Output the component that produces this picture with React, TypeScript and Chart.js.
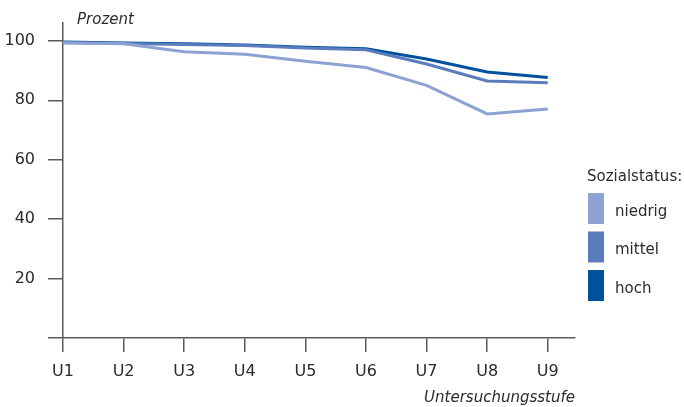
import React, { useEffect, useRef } from "react";
import { Chart, registerables } from "chart.js";

Chart.register(...registerables);

const categories = ["U1", "U2", "U3", "U4", "U5", "U6", "U7", "U8", "U9"];
const niedrig = [99.3, 99.0, 96.3, 95.5, 93.1, 91.0, 85.0, 75.4, 77.1];
const mittel = [99.4, 99.1, 98.8, 98.4, 97.6, 97.0, 92.2, 86.5, 85.9];
const hoch = [99.6, 99.3, 99.0, 98.6, 97.8, 97.3, 93.9, 89.5, 87.7];
const seriesNames = ["niedrig", "mittel", "hoch"];
const seriesColors = ["#8da2d3", "#5a7cbd", "#00519c"];
const yTicks = [0, 20, 40, 60, 80, 100];
const yLabel = "Prozent";
const xLabel = "Untersuchungsstufe";
const legendTitle = "Sozialstatus:";

const FONT = "'DejaVu Sans', 'Open Sans', sans-serif";
const TEXT = "#2b2b2b";
const AXIS = "#5a5a5a";

export default function App() {
  const ref = useRef<HTMLCanvasElement | null>(null);

  useEffect(() => {
    if (!ref.current) return;
    const toPts = (arr: number[]) => arr.map((v, i) => ({ x: i, y: v }));
    const series = [niedrig, mittel, hoch];

    const extras = {
      id: "extras",
      afterDraw(chart: any) {
        const ctx = chart.ctx;
        const area = chart.chartArea;
        ctx.save();
        ctx.fillStyle = TEXT;
        ctx.font = `italic 15px ${FONT}`;
        ctx.textBaseline = "middle";
        ctx.textAlign = "left";
        ctx.fillText(yLabel, area.left + 14, 20);

        // legend
        const lx = 588;
        ctx.font = `15px ${FONT}`;
        ctx.fillText(legendTitle, lx - 1, 177);
        seriesNames.forEach((name, i) => {
          const top = 193 + i * 38.5;
          ctx.fillStyle = seriesColors[i];
          ctx.fillRect(lx, top, 16, 31);
          ctx.fillStyle = TEXT;
          ctx.fillText(name, lx + 27, top + 19);
        });
        ctx.restore();
      },
    };

    const chart = new Chart(ref.current, {
      type: "line",
      data: {
        datasets: series.map((arr, i) => ({
          label: seriesNames[i],
          data: toPts(arr),
          borderColor: seriesColors[i],
          backgroundColor: seriesColors[i],
          borderWidth: 3,
          pointRadius: 0,
          tension: 0,
          fill: false,
        })),
      },
      options: {
        animation: false,
        responsive: true,
        maintainAspectRatio: false,
        layout: { padding: { top: 23, right: 109, left: 0, bottom: 0 } },
        plugins: {
          legend: { display: false },
          tooltip: { enabled: false },
          title: { display: false },
        },
        scales: {
          x: {
            type: "linear",
            min: 0,
            max: 8.45,
            afterBuildTicks: (scale: any) => {
              scale.ticks = categories.map((_, i) => ({ value: i }));
            },
            afterFit: (scale: any) => {
              scale.height = 69;
            },
            ticks: {
              color: TEXT,
              font: { family: FONT, size: 16 },
              padding: 10,
              autoSkip: false,
              maxRotation: 0,
              callback: (v: any) => categories[v] ?? "",
            },
            grid: {
              drawOnChartArea: false,
              drawTicks: true,
              tickLength: 14,
              color: AXIS,
              lineWidth: 1.5,
            },
            border: { display: true, color: AXIS, width: 1.5 },
            title: {
              display: true,
              text: xLabel,
              align: "end",
              color: TEXT,
              font: { family: FONT, size: 15, style: "italic" },
              padding: { top: 0, bottom: 0 },
            },
          },
          y: {
            min: 0,
            max: 106,
            afterBuildTicks: (scale: any) => {
              scale.ticks = yTicks.map((v) => ({ value: v }));
            },
            afterFit: (scale: any) => {
              scale.width = 63;
            },
            ticks: {
              color: TEXT,
              font: { family: FONT, size: 16 },
              padding: 13,
              callback: (v: any) => (v === 0 ? "" : String(v)),
            },
            grid: {
              drawOnChartArea: false,
              drawTicks: true,
              tickLength: 15,
              color: AXIS,
              lineWidth: 1.5,
            },
            border: { display: true, color: AXIS, width: 1.5 },
          },
        },
      },
      plugins: [extras],
    } as any);

    return () => chart.destroy();
  }, []);

  return (
    <div style={{ position: "fixed", left: 0, top: 0, width: 684, height: 407, background: "#fff" }}>
      <canvas ref={ref} />
    </div>
  );
}
